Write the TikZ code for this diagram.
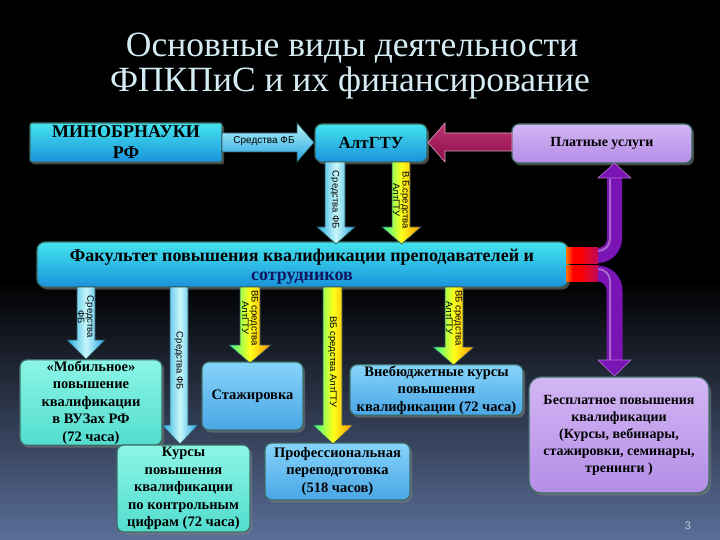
\documentclass[tikz,border=0pt]{standalone}
\usepackage{fontspec}
\setmainfont{Liberation Serif}
\setsansfont{Liberation Sans}
\usetikzlibrary{shadows,calc}
\definecolor{bgbot}{RGB}{90,110,152}
\definecolor{titlec}{HTML}{D6ECF4}
\definecolor{cyantop}{HTML}{44E4EE}
\definecolor{cyanbot}{HTML}{1A92DC}
\definecolor{aqtop}{HTML}{8CF6E6}
\definecolor{aqbot}{HTML}{52DCCE}
\definecolor{lbtop}{HTML}{86D4FA}
\definecolor{lbbot}{HTML}{4AA6E6}
\definecolor{lavtop}{HTML}{D2B6F4}
\definecolor{lavbot}{HTML}{B48EE6}
\definecolor{boxedge}{HTML}{3D6B63}
\definecolor{navy}{HTML}{101860}
\definecolor{arredge}{HTML}{2A5060}
\definecolor{pipe}{HTML}{7A14B4}
\definecolor{mag}{HTML}{B0105A}
\newcommand\dnarrow[8]{\draw[#1] (#2,#4) -- (#3,#4) -- (#3,#5) -- (#7,#5) -- ({(#6+#7)/2},#8) -- (#6,#5) -- (#2,#5) -- cycle;}
\begin{document}
\begin{tikzpicture}[x=1bp,y=-1bp,
  boxbase/.style={rounded corners=7bp, draw=boxedge, line width=1.2bp, align=center,
     drop shadow={opacity=0.55, shadow xshift=2bp, shadow yshift=-2.5bp},
     font=\bfseries\fontsize{14.5bp}{17.5bp}\selectfont, inner sep=1bp},
  cyanbox/.style={boxbase, top color=cyantop, bottom color=cyanbot},
  aqbox/.style={boxbase, top color=aqtop, bottom color=aqbot},
  lbbox/.style={boxbase, top color=lbtop, bottom color=lbbot},
  lavbox/.style={boxbase, top color=lavtop, bottom color=lavbot},
  cyarrow/.style={draw=arredge, line width=0.6bp, left color=cyanbot!70!cyantop, right color=cyanbot!80!cyantop, middle color=cyantop!30!white},
  vbarrow/.style={draw=arredge, line width=0.6bp, left color=green!55!cyan!80!white, right color=orange!85!yellow, middle color=yellow!90!white},
  alabel/.style={font=\sffamily\fontsize{9.5bp}{9.5bp}\selectfont, align=center, rotate=-90, inner sep=0pt},
  titlef/.style={text=titlec, font=\fontsize{35.5bp}{35.5bp}\selectfont, anchor=base}
]
\useasboundingbox (0,0) rectangle (720,540);
\fill[black] (0,0) rectangle (720,540);
\shade[top color=black, bottom color=bgbot] (0,280) rectangle (720,540);

% title
\node[titlef] (t1) at (352,57) {Основные виды деятельности};
\node[titlef] (t2) at (350,92) {ФПКПиС и их финансирование};

% top boxes
\node[cyanbox, minimum width=192bp, minimum height=39bp, rounded corners=2bp,
  font=\bfseries\fontsize{18bp}{21bp}\selectfont] (minob) at (126,142.5) {МИНОБРНАУКИ\\РФ};
\node[cyanbox, minimum width=112bp, minimum height=38bp,
  font=\bfseries\fontsize{17bp}{21bp}\selectfont] (alt) at (371,143) {АлтГТУ};
\node[lavbox, minimum width=180bp, minimum height=39bp,
  font=\bfseries\fontsize{14bp}{16bp}\selectfont] (paid) at (602,143.5) {Платные услуги};

% faculty bar
\node[cyanbox, minimum width=531bp, minimum height=45bp, rounded corners=8bp] (fac) at (302.5,264.5) {};
\node[font=\bfseries\fontsize{18bp}{19bp}\selectfont, align=center, inner sep=0pt] (factext) at (302,266.5)
  {Факультет повышения квалификации преподавателей и\\{\color{navy}сотрудников}};

% pipes to the right
\draw[pipe, line width=15bp, rounded corners=17bp] (566,255.5) -- (614.5,255.5) -- (614.5,178);
\draw[pipe, line width=16bp, rounded corners=17bp] (566,273.5) -- (614.5,273.5) -- (614.5,361);
\draw[white!60!pipe, line width=2bp, rounded corners=12bp, opacity=0.6] (596,251) -- (610,251) -- (610,179);
\draw[white!60!pipe, line width=2bp, rounded corners=12bp, opacity=0.6] (596,269) -- (610,269) -- (610,360);
\shade[left color=orange!90!red, right color=red, middle color=red] (566,248) rectangle (580,263);
\shade[left color=red, right color=red!50!pipe] (580,248) rectangle (598,263);
\shade[left color=orange!90!red, right color=red, middle color=red] (566,265.5) rectangle (580,281.5);
\shade[left color=red, right color=red!50!pipe] (580,265.5) rectangle (598,281.5);
\fill[pipe, draw=pipe!60!white, line width=0.6bp] (598,178) -- (631,178) -- (614.5,163) -- cycle;
\fill[pipe, draw=pipe!60!white, line width=0.6bp] (598,360) -- (631,360) -- (614.5,376) -- cycle;
\coordinate (pipetop) at (614.5,163);
\coordinate (pipebot) at (614.5,376);

% horizontal arrows
\draw[cyarrow, top color=cyantop!40!white, bottom color=cyanbot!80!cyantop]
  (222,133) -- (297,133) -- (297,123) -- (314,142.5) -- (297,162) -- (297,152) -- (222,152) -- cycle;
\node[font=\sffamily\fontsize{10bp}{10bp}\selectfont, inner sep=0pt] (lab0) at (264,141.5) {Средства ФБ};
\draw[draw=mag!40!white, line width=0.6bp, top color=mag!85!white, bottom color=mag!80!black]
  (512,133) -- (445,133) -- (445,123) -- (428,142.5) -- (445,162) -- (445,151) -- (512,151) -- cycle;

% down arrows from АлтГТУ
\dnarrow{cyarrow}{325}{345}{162}{227}{317}{355}{244}
\node[alabel] (lab1) at (335,200) {Средства ФБ};
\dnarrow{vbarrow}{392}{410}{162}{227}{382}{421}{244}
\node[alabel] (lab2) at (401,200) {В.Б.средства\\АлтГТУ};

% lower boxes
\node[aqbox, minimum width=142bp, minimum height=85bp] (mob) at (91,402.5)
  {«Мобильное»\\повышение\\квалификации\\в ВУЗах РФ\\(72 часа)};
\node[aqbox, minimum width=133bp, minimum height=87bp] (kurs) at (183.5,488.5)
  {Курсы\\повышения\\квалификации\\по контрольным\\цифрам (72 часа)};
\node[lbbox, minimum width=101bp, minimum height=68bp] (stazh) at (252.5,396) {Стажировка};
\node[lbbox, minimum width=145bp, minimum height=57bp] (prof) at (337.5,471.5)
  {Профессиональная\\переподготовка\\(518 часов)};
\node[lbbox, minimum width=173bp, minimum height=50bp] (vneb) at (436.5,390)
  {Внебюджетные курсы\\повышения\\квалификации (72 часа)};
\node[lavbox, minimum width=180bp, minimum height=116bp, rounded corners=12bp,
  font=\bfseries\fontsize{14bp}{17bp}\selectfont] (free) at (619,435)
  {Бесплатное повышения\\квалификации\\(Курсы, вебинары,\\стажировки, семинары,\\тренинги )};

% down arrows from faculty
\dnarrow{cyarrow}{77}{95}{287}{340}{67}{105}{359}
\node[alabel] (lab3) at (86,317) {Средства\\ФБ};
\dnarrow{cyarrow}{170}{188}{287}{425}{162}{198}{444}
\node[alabel] (lab4) at (179,361) {Средства ФБ};
\dnarrow{vbarrow}{240}{260}{287}{345}{229}{271}{363}
\node[alabel] (lab5) at (250,318) {ВБ средства\\АлтГТУ};
\dnarrow{vbarrow}{323}{342}{287}{425}{313}{353}{444}
\node[alabel] (lab6) at (332.5,362) {ВБ средства АлтГТУ};
\dnarrow{vbarrow}{445}{463}{287}{347}{433}{474}{365}
\node[alabel] (lab7) at (454,318) {ВБ средства\\АлтГТУ};

% page number
\node[text=titlec!80!bgbot, font=\sffamily\fontsize{11bp}{11bp}\selectfont] (pg) at (688,526) {3};
\end{tikzpicture}
\end{document}
